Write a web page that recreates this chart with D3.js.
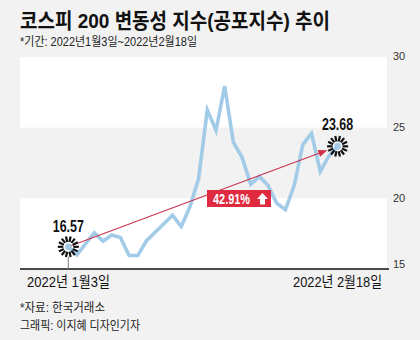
<!DOCTYPE html>
<html><head><meta charset="utf-8">
<script src="https://cdn.jsdelivr.net/npm/d3@7"></script>
<style>body{margin:0;background:#f2f2f2;} svg{display:block}</style>
</head><body>
<script>
const dates = ["2022-01-03","2022-01-04","2022-01-05","2022-01-06","2022-01-07","2022-01-10","2022-01-11","2022-01-12","2022-01-13","2022-01-14","2022-01-17","2022-01-18","2022-01-19","2022-01-20","2022-01-21","2022-01-24","2022-01-25","2022-01-26","2022-01-27","2022-01-28","2022-02-03","2022-02-04","2022-02-07","2022-02-08","2022-02-09","2022-02-10","2022-02-11","2022-02-14","2022-02-15","2022-02-16","2022-02-17","2022-02-18"];
const values = [16.57,16.0,16.8,17.55,16.97,17.4,17.23,15.95,15.95,17.0,17.6,18.2,18.8,18.0,19.4,21.4,26.25,24.8,27.95,23.95,22.9,21.0,21.55,20.9,19.65,19.2,20.9,23.8,24.6,21.9,23.0,23.68];
const yTicks = [15,20,25,30];
const xLabels = ["2022년 1월3일","2022년 2월18일"];
const titleText = "코스피 200 변동성 지수(공포지수) 추이";
const subtitleText = "*기간: 2022년1월3일~2022년2월18일";
const sourceText = "*자료: 한국거래소";
const creditText = "그래픽: 이지혜 디자인기자";

const W = 420, H = 340;
const FONT = "'Liberation Sans', 'Noto Sans CJK KR', sans-serif";
const svg = d3.select("body").append("svg").attr("width", W).attr("height", H)
  .style("font-family", FONT);
svg.append("rect").attr("width", W).attr("height", H).attr("fill", "#f2f2f2");

const plotL = 20, plotR = 387;
const x = d3.scalePoint().domain(dates).range([68.3, 337.6]);
const y = d3.scaleLinear().domain([15, 30]).range([269, 57]);

// bands
[[25, 30], [15, 20]].forEach(([a, b]) => {
  svg.append("rect").attr("x", plotL).attr("width", plotR - plotL)
    .attr("y", y(b)).attr("height", y(a) - y(b)).attr("fill", "#ffffff");
});

// y axis
const yAxis = svg.append("g").attr("transform", `translate(${plotR + 4},0)`)
  .call(d3.axisRight(y).tickValues(yTicks).tickSize(0).tickPadding(2));
yAxis.select(".domain").remove();
yAxis.selectAll("text").attr("fill", "#333").style("font-size", "11px")
  .style("font-family", FONT)
  .attr("dy", d => d === 15 ? "-0.1em" : "0.25em");

// baseline
svg.append("line").attr("x1", plotL).attr("x2", plotR + 2).attr("y1", y(15)).attr("y2", y(15))
  .attr("stroke", "#111").attr("stroke-width", 1.3);

// vertical pointer line
svg.append("line").attr("x1", x(dates[0])).attr("x2", x(dates[0]))
  .attr("y1", y(values[0]) + 10).attr("y2", y(15)).attr("stroke", "#777").attr("stroke-width", 1);

// data line
const line = d3.line().x((d, i) => x(dates[i])).y(d => y(d));
svg.append("path").datum(values).attr("d", line).attr("fill", "none")
  .attr("stroke", "#a2cbe8").attr("stroke-width", 3.6);

// arrow
const n = values.length - 1;
const sx = x(dates[0]), sy = y(values[0]), ex = x(dates[n]), ey = y(values[n]);
const len = Math.hypot(ex - sx, ey - sy);
const ux = (ex - sx) / len, uy = (ey - sy) / len;
const tx = ex - ux * 11, ty = ey - uy * 11;
svg.append("line").attr("x1", sx).attr("y1", sy).attr("x2", tx - ux * 6).attr("y2", ty - uy * 6)
  .attr("stroke", "#c8354f").attr("stroke-width", 1.1);
const px = -uy, py = ux;
svg.append("path").attr("d", `M${tx},${ty} L${tx - ux * 9 + px * 3.6},${ty - uy * 9 + py * 3.6} L${tx - ux * 9 - px * 3.6},${ty - uy * 9 - py * 3.6} Z`)
  .attr("fill", "#d4314c");

// markers
function marker(cx, cy) {
  const g = svg.append("g").attr("transform", `translate(${cx},${cy})`);
  d3.range(14).forEach(k => {
    const a = k / 14 * 2 * Math.PI;
    g.append("line").attr("x1", Math.cos(a) * 5).attr("y1", Math.sin(a) * 5)
      .attr("x2", Math.cos(a) * 10.5).attr("y2", Math.sin(a) * 10.5)
      .attr("stroke", "#111").attr("stroke-width", 2.2);
  });
  g.append("circle").attr("r", 3.2).attr("fill", "#a2cbe8");
}
marker(sx, sy);
marker(ex, ey);

// value labels
svg.append("text").attr("x", sx).attr("y", sy - 15).attr("text-anchor", "middle")
  .style("font-size", "16px").style("font-weight", "bold").attr("fill", "#111")
  .attr("textLength", 31).attr("lengthAdjust", "spacingAndGlyphs")
  .text(values[0].toFixed(2));
svg.append("text").attr("x", ex).attr("y", ey - 16).attr("text-anchor", "middle")
  .style("font-size", "16px").style("font-weight", "bold").attr("fill", "#111")
  .attr("textLength", 31).attr("lengthAdjust", "spacingAndGlyphs")
  .text(values[n].toFixed(2));

// percent box
const pct = ((values[n] - values[0]) / values[0] * 100).toFixed(2) + "%";
svg.append("rect").attr("x", 207).attr("y", 190).attr("width", 64).attr("height", 17)
  .attr("fill", "#df2a40");
svg.append("text").attr("x", 213).attr("y", 203.5).attr("fill", "#fff")
  .style("font-size", "14px").style("font-weight", "bold")
  .attr("textLength", 37).attr("lengthAdjust", "spacingAndGlyphs").text(pct);
svg.append("path").attr("d", "M262.5,193 L268,199 L265,199 L265,204.5 L260,204.5 L260,199 L257,199 Z")
  .attr("fill", "#fff");

// x labels
svg.append("text").attr("x", 27).attr("y", 287).style("font-size", "15px").attr("fill", "#111")
  .attr("textLength", 83).attr("lengthAdjust", "spacingAndGlyphs").text(xLabels[0]);
svg.append("text").attr("x", 382).attr("y", 287).attr("text-anchor", "end").style("font-size", "15px").attr("fill", "#111")
  .attr("textLength", 89).attr("lengthAdjust", "spacingAndGlyphs").text(xLabels[1]);

// title
svg.append("text").attr("x", 20).attr("y", 28).style("font-size", "21px").style("font-weight", "bold")
  .attr("fill", "#111").attr("textLength", 310).attr("lengthAdjust", "spacingAndGlyphs").text(titleText);
svg.append("text").attr("x", 20).attr("y", 46).style("font-size", "12px").attr("fill", "#222")
  .attr("textLength", 177).attr("lengthAdjust", "spacingAndGlyphs").text(subtitleText);

// footer
svg.append("text").attr("x", 20).attr("y", 312).style("font-size", "12px").attr("fill", "#222")
  .attr("textLength", 85).attr("lengthAdjust", "spacingAndGlyphs").text(sourceText);
svg.append("text").attr("x", 20).attr("y", 330).style("font-size", "12px").attr("fill", "#222")
  .attr("textLength", 120).attr("lengthAdjust", "spacingAndGlyphs").text(creditText);
</script>
</body></html>
